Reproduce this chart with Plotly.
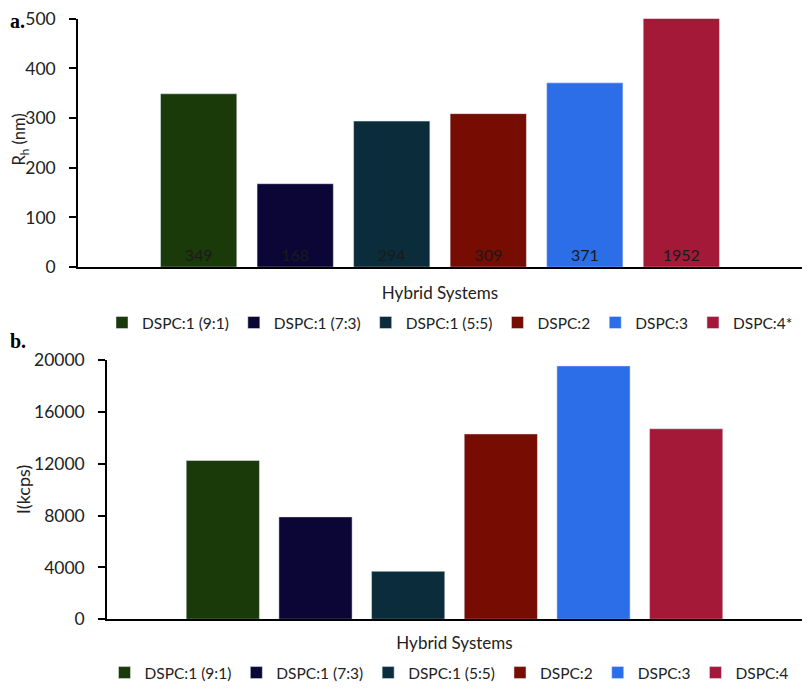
import plotly.graph_objects as go
from plotly.subplots import make_subplots

# hybrid systems, one category, one bar per system
systems_a = ["DSPC:1 (9:1)", "DSPC:1 (7:3)", "DSPC:1 (5:5)", "DSPC:2", "DSPC:3", "DSPC:4*"]
systems_b = ["DSPC:1 (9:1)", "DSPC:1 (7:3)", "DSPC:1 (5:5)", "DSPC:2", "DSPC:3", "DSPC:4"]
rh_nm = [349, 168, 294, 309, 371, 1952]
intensity_kcps = [12250, 7900, 3700, 14300, 19550, 14700]
colors = ["#1a3a0a", "#0b0636", "#0a2c3b", "#760c02", "#2c6de8", "#a41937"]

font = "Lato, 'Open Sans', sans-serif"
serif = "'Liberation Serif', 'DejaVu Serif', serif"
ink = "#222222"

# the page keeps an 8px body margin, so the figure is 16px smaller than the window
W, H, PAD = 794, 682, 8
ML = 40  # left margin for the y titles


def fx(p):
    # window pixel -> paper x
    return (p - PAD - ML) / (W - ML)


def fy(p):
    # window pixel -> paper y
    return 1 - (p - PAD) / H


fig = make_subplots(rows=2, cols=1)

for name, v, c in zip(systems_a, rh_nm, colors):
    fig.add_trace(go.Bar(x=["Hybrid Systems"], y=[v], name=name, marker_color=c,
                         text=[str(v)], textposition="inside", insidetextanchor="start",
                         constraintext="none", textangle=0,
                         textfont=dict(family=font, size=16, color="#1a1a1a"),
                         legend="legend"), row=1, col=1)

for name, v, c in zip(systems_b, intensity_kcps, colors):
    fig.add_trace(go.Bar(x=["Hybrid Systems"], y=[v], name=name, marker_color=c,
                         legend="legend2"), row=2, col=1)

axis_common = dict(showgrid=False, zeroline=False, showline=True, linecolor="black",
                   linewidth=1.5, automargin=False)
yaxis_common = dict(ticks="outside", ticklen=7, tickcolor="black", tickwidth=1.5,
                    tickfont=dict(size=17.5), ticklabelstandoff=10, ticklabeloverflow="allow",
                    tickformat="d")

fig.update_layout(
    width=W, height=H,
    margin=dict(l=ML, r=0, t=0, b=0),
    paper_bgcolor="white", plot_bgcolor="white",
    font=dict(family=font, size=16, color=ink),
    barmode="group", bargap=0.2, bargroupgap=0.21,
    legend=dict(orientation="h", x=fx(450), xanchor="center", y=fy(330), yanchor="middle",
                font=dict(size=15.5), itemwidth=30, bgcolor="rgba(0,0,0,0)"),
    legend2=dict(orientation="h", x=fx(449), xanchor="center", y=fy(688), yanchor="middle",
                 font=dict(size=15.5), itemwidth=30, bgcolor="rgba(0,0,0,0)"),
    xaxis=dict(domain=[fx(78), 1.0], showticklabels=False, ticks="",
               title=dict(text="Hybrid Systems", standoff=19, font=dict(size=17)), **axis_common),
    yaxis=dict(domain=[fy(273), fy(19)], range=[0, 500], dtick=100, **axis_common, **yaxis_common),
    xaxis2=dict(domain=[fx(107), fx(802)], showticklabels=False, ticks="",
                title=dict(text="Hybrid Systems", standoff=17, font=dict(size=17)), **axis_common),
    yaxis2=dict(domain=[fy(633), fy(368)], range=[0, 20000], dtick=4000,
                **axis_common, **yaxis_common),
)

# y titles
fig.add_annotation(text="R<sub>h</sub> (nm)", x=fx(19.5), y=fy(143), xref="paper", yref="paper",
                   xanchor="center", yanchor="middle", textangle=-90, showarrow=False,
                   font=dict(size=16.5, color=ink))
fig.add_annotation(text="I(kcps)", x=fx(23), y=fy(500), xref="paper", yref="paper",
                   xanchor="center", yanchor="middle", textangle=-90, showarrow=False,
                   font=dict(size=18, color=ink))

# panel letters
fig.add_annotation(text="<b>a.</b>", x=fx(8), y=1, xref="paper", yref="paper",
                   xanchor="left", yanchor="top", showarrow=False,
                   font=dict(family=serif, size=20, color="black"))
fig.add_annotation(text="<b>b.</b>", x=fx(8), y=fy(348), xref="paper", yref="paper",
                   xanchor="left", yanchor="middle", showarrow=False,
                   font=dict(family=serif, size=20, color="black"))

fig.write_html("out.html")
